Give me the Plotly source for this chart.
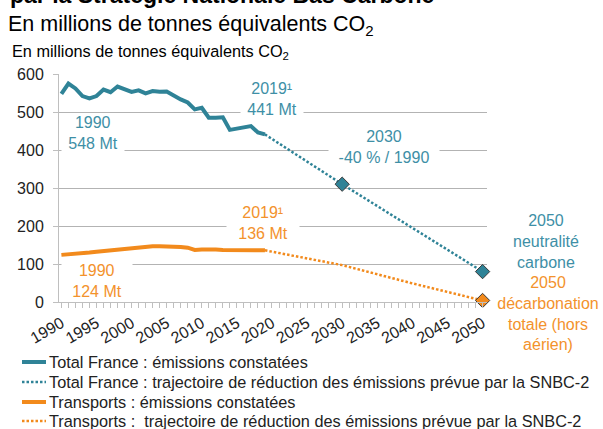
import plotly.graph_objects as go

# observed emissions (Mt CO2e)
years_obs = list(range(1990, 2020))
total_obs = [548, 575, 562, 542, 536, 542, 559, 552, 567, 560,
             553, 557, 549, 555, 553, 554, 542, 533, 525, 507,
             511, 485, 485, 486, 453, 457, 459, 463, 446, 441]
transport_obs = [124, 125, 127, 129, 130, 132, 134, 136, 139, 141,
                 143, 145, 146, 147, 147, 147, 146, 145, 143, 137,
                 138, 139, 138, 137, 137, 137, 137, 138, 137, 136]

# SNBC-2 trajectories
years_traj_total = [2019, 2030, 2050]
total_traj = [441, 310, 80]
years_traj_transport = [2019, 2030, 2040, 2050]
transport_traj = [136, 97, 49, 4]

x_ticks = list(range(1990, 2051, 5))

series_names = [
  'Total France : émissions constatées',
  'Total France : trajectoire de réduction des émissions prévue par la SNBC-2',
  'Transports : émissions constatées',
  'Transports :  trajectoire de réduction des émissions prévue par la SNBC-2',
]

teal = '#2F8397'
teal_txt = '#3E8FA6'
orange = '#F28A1C'
orange_txt = '#F3922C'
font_family = 'Liberation Sans, Arial, sans-serif'

W, H = 603, 429
L, R, T, B = 59, 116, 74, 127
plot_w = W - L - R
plot_h = H - T - B


def px(x):
  return (x - L) / plot_w


def py(y):
  return (H - B - y) / plot_h


line_styles = [
  dict(color=teal, width=4),
  dict(color=teal, width=2.5, dash='2.5px,2px'),
  dict(color=orange, width=4),
  dict(color=orange, width=2.5, dash='2.5px,2px'),
]
series_x = [years_obs, years_traj_total, years_obs, years_traj_transport]
series_y = [total_obs, total_traj, transport_obs, transport_traj]

fig = go.Figure()

for x, y, name, line in zip(series_x, series_y, series_names, line_styles):
  fig.add_trace(go.Scatter(x=x, y=y, mode='lines', line=line, name=name))

# target markers
fig.add_trace(go.Scatter(x=years_traj_total[1:], y=total_traj[1:], mode='markers',
                         marker=dict(symbol='diamond', size=11, color=teal,
                                     line=dict(color='#3A3A3A', width=1)),
                         hoverinfo='skip', cliponaxis=False))
fig.add_trace(go.Scatter(x=years_traj_transport[-1:], y=transport_traj[-1:], mode='markers',
                         marker=dict(symbol='diamond', size=11, color=orange,
                                     line=dict(color='#3A3A3A', width=1)),
                         hoverinfo='skip', cliponaxis=False))

# (text, x px, y px, box width, colour, white background)
labels = [
  ('1990<br>548 Mt', 93, 133, 62, teal_txt, True),
  ('1990<br>124 Mt', 97, 281, 70, orange_txt, True),
  ('2019¹<br>441 Mt', 272, 99, 62, teal_txt, True),
  ('2019¹<br>136 Mt', 263, 223, 72, orange_txt, True),
  ('2030<br>-40 % / 1990', 384, 147, 110, teal_txt, True),
  ('2050<br>neutralité<br>carbone', 546, 241, 104, teal_txt, False),
  ('2050<br>décarbonation<br>totale (hors<br>aérien)', 548, 313, 104, orange_txt, False),
]
for text, x, y, w, c, bg in labels:
  fig.add_annotation(text=text, x=px(x), y=py(y), xref='paper', yref='paper',
                     xanchor='center', yanchor='middle', showarrow=False,
                     width=w, align='center', borderpad=0,
                     bgcolor='white' if bg else 'rgba(0,0,0,0)',
                     font=dict(size=16, color=c))

# legend written by hand: plotly's legend rows are too far apart for this size of text
for name, line, y in zip(series_names, line_styles, [362, 382, 402, 421]):
  fig.add_shape(type='line', xref='paper', yref='paper', x0=px(22), x1=px(46),
                y0=py(y), y1=py(y), line=line)
  fig.add_annotation(text=name, x=px(47), y=py(y), xref='paper', yref='paper',
                     xanchor='left', yanchor='middle', showarrow=False,
                     font=dict(size=16.3, color='#222222'))

# titles
fig.add_annotation(text='<b>par la Stratégie Nationale Bas Carbone</b>', x=px(8), y=py(10),
                   xref='paper', yref='paper', xanchor='left', yanchor='bottom',
                   showarrow=False, font=dict(size=23, color='black'))
fig.add_annotation(text='En millions de tonnes équivalents CO<sub>2</sub>', x=px(6), y=py(25),
                   xref='paper', yref='paper', xanchor='left', yanchor='middle',
                   showarrow=False, font=dict(size=21.5, color='black'))
fig.add_annotation(text='En millions de tonnes équivalents CO<sub>2</sub>', x=px(10), y=py(52),
                   xref='paper', yref='paper', xanchor='left', yanchor='middle',
                   showarrow=False, font=dict(size=16.3, color='black'))

fig.update_xaxes(range=[1989.66, 2050.63], tickvals=x_ticks, tickangle=-30,
                 showgrid=False, zeroline=False, showline=True, linecolor='#BFBFBF',
                 ticks='outside', ticklen=5, tickcolor='#BFBFBF', automargin=False,
                 minor=dict(dtick=1, tick0=1990, ticks='outside', ticklen=5, tickcolor='#BFBFBF'),
                 tickfont=dict(size=16, color='#222222'))
fig.update_yaxes(range=[0, 600], dtick=100, showgrid=True, gridcolor='#B3B3B3',
                 zeroline=False, showline=True, linecolor='#BFBFBF', automargin=False,
                 ticks='outside', ticklen=5, tickcolor='#BFBFBF', ticklabelstandoff=6,
                 tickfont=dict(size=16, color='#222222'))

fig.update_layout(width=W, height=H, autosize=False, template='plotly_white',
                  margin=dict(l=L, r=R, t=T, b=B, autoexpand=False),
                  font=dict(family=font_family, color='#222222'),
                  paper_bgcolor='white', plot_bgcolor='white', showlegend=False)

# the page body has a default 8px margin: remove it so the figure fills the window
fig.write_html('out.html', config={'displayModeBar': False},
               post_script="document.body.style.margin='0';")
